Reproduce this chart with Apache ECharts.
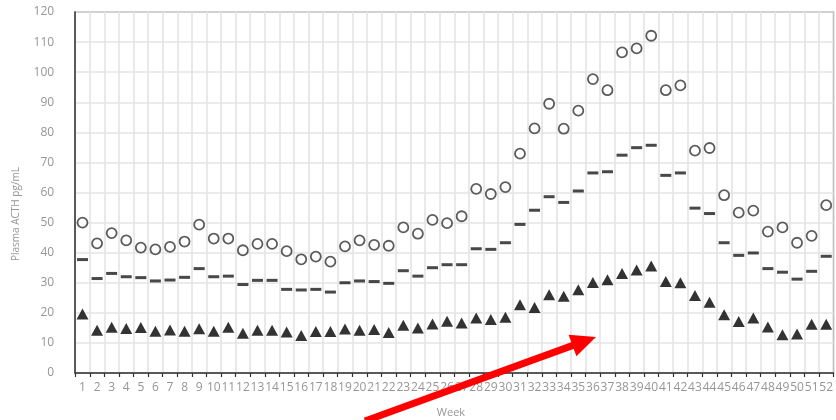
<!DOCTYPE html>
<html>
<head>
<meta charset="utf-8">
<script src="https://cdn.jsdelivr.net/npm/echarts@6/dist/echarts.min.js"></script>
<style>
  html, body { margin: 0; padding: 0; background: #fff; }
  #chart { width: 836px; height: 420px; }
</style>
</head>
<body>
<div id="chart"></div>
<script>
// Weekly plasma ACTH reference bands (pg/mL)
const weeks = Array.from({ length: 52 }, (_, i) => String(i + 1));

const upper = [
  50.0, 43.1, 46.5, 44.1, 41.7, 41.1, 41.9, 43.7, 49.3, 44.7,
  44.7, 40.8, 42.9, 42.9, 40.5, 37.8, 38.7, 37.0, 42.1, 44.1,
  42.6, 42.3, 48.4, 46.3, 50.9, 49.8, 52.1, 61.2, 59.5, 61.8,
  72.9, 81.3, 89.5, 81.2, 87.2, 97.7, 94.0, 106.6, 107.9, 112.1,
  94.0, 95.6, 73.9, 74.8, 59.1, 53.3, 54.0, 47.0, 48.4, 43.3,
  45.6, 55.8
];

const median = [
  37.7, 31.4, 33.1, 32.0, 31.7, 30.6, 30.9, 31.8, 34.7, 32.0,
  32.2, 29.4, 30.8, 30.8, 27.8, 27.6, 27.8, 26.9, 30.0, 30.6,
  30.4, 29.8, 34.0, 32.2, 35.0, 36.0, 36.0, 41.3, 41.1, 43.3,
  49.4, 54.1, 58.6, 56.7, 60.5, 66.5, 66.9, 72.4, 74.9, 75.7,
  65.7, 66.5, 54.8, 53.0, 43.3, 39.1, 39.9, 34.7, 33.5, 31.2,
  33.8, 38.8
];

const lower = [
  19.6, 14.2, 15.2, 14.8, 15.1, 13.9, 14.3, 13.9, 14.7, 13.9,
  15.2, 13.2, 14.2, 14.2, 13.6, 12.5, 13.8, 13.8, 14.6, 14.2,
  14.5, 13.5, 15.9, 15.0, 16.3, 17.2, 16.6, 18.3, 17.8, 18.5,
  22.7, 21.8, 26.0, 25.5, 27.7, 30.1, 31.0, 33.1, 34.2, 35.6,
  30.4, 30.0, 25.8, 23.5, 19.4, 17.1, 18.3, 15.3, 12.7, 13.0,
  16.2, 16.2
];

const yTicks = [0, 10, 20, 30, 40, 50, 60, 70, 80, 90, 100, 110, 120];

const FONT = '"Open Sans", "DejaVu Sans", sans-serif';
const LABEL_GRAY = '#969696';

const chart = echarts.init(document.getElementById('chart'), null, { renderer: 'canvas' });

// Arrow pointing up into the rising section of the season
const tail = [365, 421];
const tip = [596, 337];
const dx = tip[0] - tail[0], dy = tip[1] - tail[1];
const len = Math.hypot(dx, dy);
const ux = dx / len, uy = dy / len;
const nx = -uy, ny = ux;
const headLen = 25, headHalf = 11.5;
const base = [tip[0] - ux * headLen, tip[1] - uy * headLen];

chart.setOption({
  animation: false,
  backgroundColor: '#fff',
  grid: {
    left: 75.2, right: -5.7, top: 12, bottom: 47,
    show: true, borderColor: '#333', borderWidth: 1.2, backgroundColor: 'transparent'
  },
  xAxis: {
    type: 'category',
    data: weeks,
    boundaryGap: true,
    axisLine: { show: true, lineStyle: { color: '#333', width: 1.5 } },
    axisTick: { show: true, alignWithLabel: false, length: 4, lineStyle: { color: '#333', width: 1.2 } },
    axisLabel: { interval: 0, color: LABEL_GRAY, fontFamily: FONT, fontSize: 12, margin: 9 },
    splitLine: { show: true, interval: 0, lineStyle: { color: '#e4e4e4', width: 1.6 } }
  },
  yAxis: {
    type: 'value',
    min: yTicks[0],
    max: yTicks[yTicks.length - 1],
    interval: 10,
    axisLine: { show: true, lineStyle: { color: '#333', width: 1.5 } },
    axisTick: { show: false },
    axisLabel: { color: LABEL_GRAY, fontFamily: FONT, fontSize: 12, margin: 21 },
    splitLine: { show: true, lineStyle: { color: '#e4e4e4', width: 1.6 } }
  },
  series: [
    {
      name: 'Upper',
      type: 'scatter',
      data: upper,
      symbol: 'circle',
      symbolSize: 10,
      itemStyle: { color: '#fff', borderColor: '#333', borderWidth: 1.8 },
      z: 3
    },
    {
      name: 'Median',
      type: 'scatter',
      data: median,
      symbol: 'rect',
      symbolSize: [11, 3],
      itemStyle: { color: '#1a1a1a' },
      z: 3
    },
    {
      name: 'Lower',
      type: 'scatter',
      data: lower,
      symbol: 'triangle',
      symbolSize: [12, 11],
      itemStyle: { color: '#000' },
      z: 3
    }
  ],
  graphic: [
    {
      type: 'text',
      x: 16, y: 214,
      rotation: Math.PI / 2,
      style: {
        text: 'Plasma ACTH pg/mL',
        fill: LABEL_GRAY,
        font: '10px ' + FONT,
        textAlign: 'center',
        textVerticalAlign: 'middle'
      }
    },
    {
      type: 'text',
      x: 451, y: 413,
      style: {
        text: 'Week',
        fill: LABEL_GRAY,
        font: '11px ' + FONT,
        textAlign: 'center',
        textVerticalAlign: 'middle'
      }
    },
    {
      type: 'line',
      shape: { x1: tail[0], y1: tail[1], x2: base[0] + ux * 2, y2: base[1] + uy * 2 },
      style: { stroke: '#ff0000', lineWidth: 7 },
      z: 100
    },
    {
      type: 'polygon',
      shape: {
        points: [
          tip,
          [base[0] + nx * headHalf, base[1] + ny * headHalf],
          [base[0] - nx * headHalf, base[1] - ny * headHalf]
        ]
      },
      style: { fill: '#ff0000' },
      z: 100
    }
  ]
});
</script>
</body>
</html>
